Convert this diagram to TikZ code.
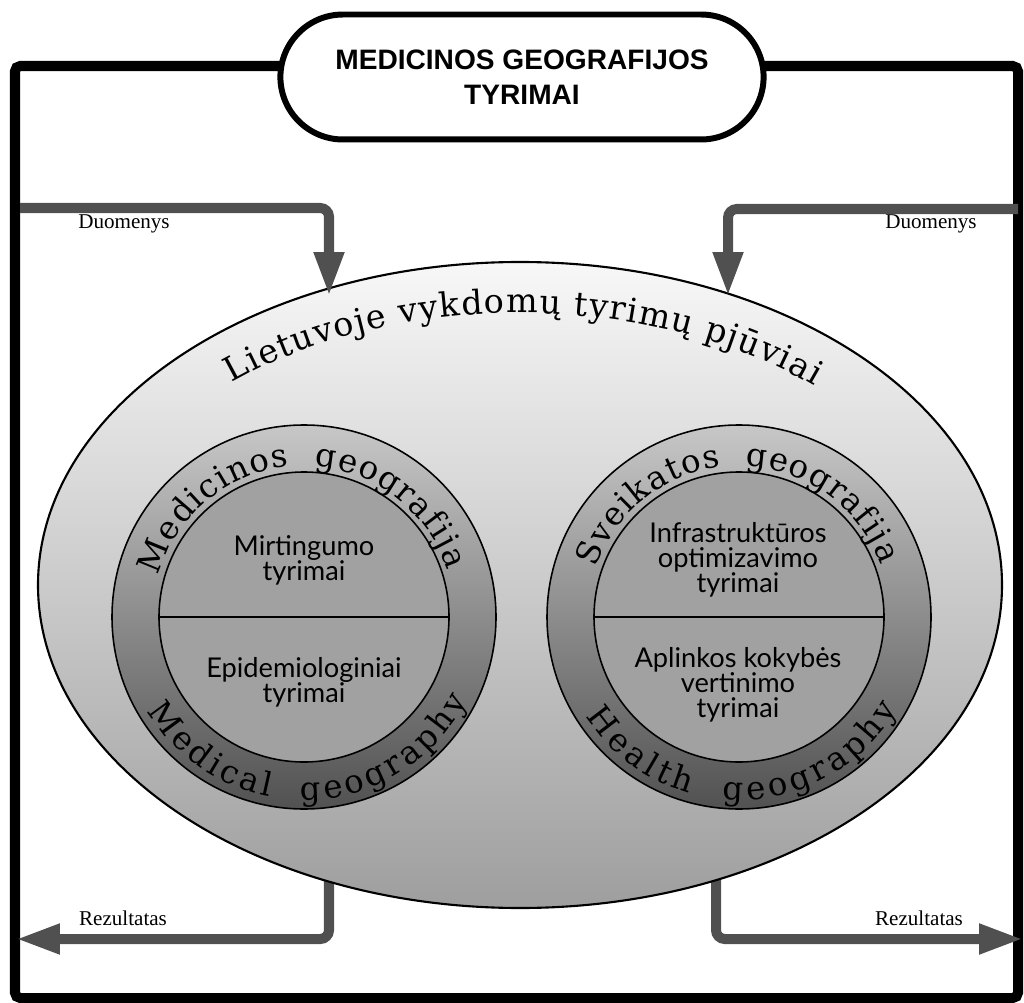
\documentclass[tikz,border=0pt]{standalone}
\usepackage{fontspec}
\setmainfont{Liberation Serif}
\newfontfamily\arcfont{DejaVu Serif}
\newfontfamily\cellfont{Lato}
\newfontfamily\headfont{Liberation Sans}
\usetikzlibrary{arrows.meta,shapes.misc,decorations.text}
\definecolor{flowgray}{HTML}{505050}

\begin{document}
\begin{tikzpicture}[x=0.02cm, y=0.02cm,
	frameline/.style={line width=5.7pt, rounded corners=3pt},
	flow/.style={draw=flowgray, line width=5.7pt, rounded corners=5pt, -{Triangle[length=25pt, width=16pt]}},
	headbox/.style={rounded rectangle, draw, fill=white, line width=3.4pt, minimum width=9.9cm, minimum height=2.5cm, align=center, font=\headfont\bfseries\fontsize{16}{20}\selectfont},
	cell/.style={align=center, font=\cellfont\fontsize{15.5}{14.2}\selectfont},
	tag/.style={font=\fontsize{12}{14}\selectfont},
	ringtext/.style={decorate, decoration={text along path, text align={fit to path}, text={|\arcfont\fontsize{18.5}{22}\selectfont|#1}}},
	slicetext/.style={decorate, decoration={text along path, text align={fit to path}, text={|\arcfont\fontsize{19}{22}\selectfont|#1}}}
]
\useasboundingbox (0,0) rectangle (1024,-1003);
% outer frame
	\draw[frameline] (15,-66) rectangle (1018,-998);

% results leave from below the ellipse
	\coordinate (srcL) at (329,-860);
	\coordinate (srcR) at (716,-860);
	\coordinate (outL) at (16,-939);
	\coordinate (outR) at (1023,-939);
	\draw[flow] (srcL) |- (outL);
	\draw[flow] (srcR) |- (outR);

% big ellipse
	\draw[line width=1.2pt, top color=black!3, bottom color=black!38] (520,-585) coordinate (slice) ellipse [x radius=482, y radius=323];
	\path[slicetext={Lietuvoje vykdomų tyrimų pjūviai}] ([shift={(132:431 and 272)}]slice) arc[start angle=132, end angle=47, x radius=431, y radius=272];

% data coming in
	\coordinate (inL) at (20,-208);
	\coordinate (inR) at (1018,-209);
	\coordinate (tipL) at (329,-296);
	\coordinate (tipR) at (728,-296);
	\draw[flow] (inL) -| (tipL);
	\draw[flow] (inR) -| (tipR);

% two rings
	\foreach \c/\x in {ringL/304, ringR/739} {
		\draw[line width=0.9pt, top color=black!22, bottom color=black!68] (\x,-617) coordinate (\c) circle (192);
		\draw[line width=0.9pt, fill=black!37] (\c) circle (145);
		\draw[line width=0.9pt] ({\x-145},-617) -- ({\x+145},-617);
	}
	\path[ringtext={Medicinos {\ }geografija}] ([shift={(164:151)}]ringL) arc[start angle=164, end angle=18, radius=151];
	\path[ringtext={Medical {\ }geography}] ([shift={(211:183)}]ringL) arc[start angle=211, end angle=333, radius=183];
	\path[ringtext={Sveikatos {\ }geografija}] ([shift={(161:151)}]ringR) arc[start angle=161, end angle=20, radius=151];
	\path[ringtext={Health {\ }geography}] ([shift={(213:183)}]ringR) arc[start angle=213, end angle=330, radius=183];

	\node[cell] (mort) at (304,-560) {Mirtingumo\\tyrimai};
	\node[cell] (epid) at (304,-682) {Epidemiologiniai\\tyrimai};
	\node[cell] (infra) at (738,-560) {Infrastruktūros\\optimizavimo\\tyrimai};
	\node[cell] (env) at (738,-685) {Aplinkos kokybės\\vertinimo\\tyrimai};

% title and labels
	\node[headbox] (head) at (522,-77) {MEDICINOS GEOGRAFIJOS\\TYRIMAI};
	\node[tag] (dataL) at (124,-224) {Duomenys};
	\node[tag] (dataR) at (931,-224) {Duomenys};
	\node[tag] (resL) at (123,-918) {Rezultatas};
	\node[tag] (resR) at (919,-918) {Rezultatas};
\end{tikzpicture}
\end{document}
